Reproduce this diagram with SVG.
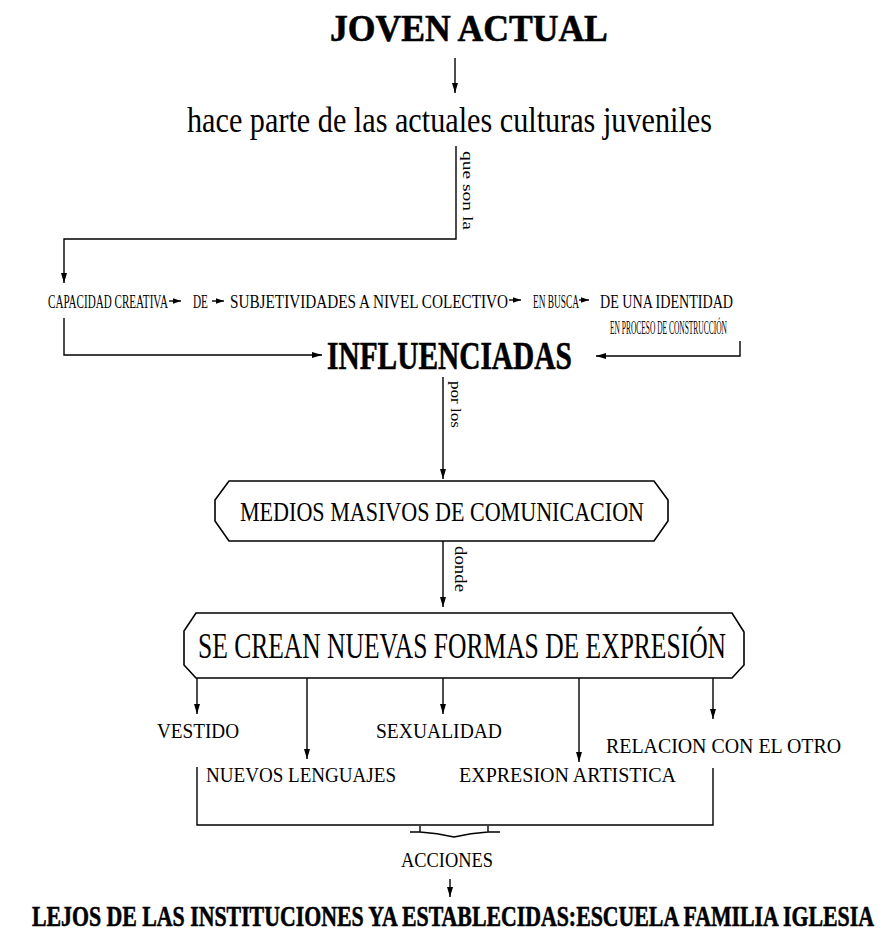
<svg xmlns="http://www.w3.org/2000/svg" width="896" height="934" viewBox="0 0 896 934">
<style>
.t{font-family:"Liberation Serif","Times New Roman",serif;fill:#000}
.b{font-weight:bold;stroke:#000;stroke-width:0.6}
.ln{stroke:#000;stroke-width:1.4;fill:none}
.box{stroke:#000;stroke-width:1.6;fill:#fff}
</style>
<defs>
<marker id="ah" viewBox="0 0 10 10" refX="10" refY="5" markerWidth="10" markerHeight="10" markerUnits="userSpaceOnUse" orient="auto"><path d="M0,2 L10,5 L0,8 z" fill="#000"/></marker>
<marker id="sm" viewBox="0 0 10 10" refX="10" refY="5" markerWidth="8" markerHeight="8" markerUnits="userSpaceOnUse" orient="auto"><path d="M0,1.5 L10,5 L0,8.5 z" fill="#000"/></marker>
</defs>
<rect width="896" height="934" fill="#fff"/>
<g id="connectors">
<path class="ln" d="M455,58 V93" marker-end="url(#ah)"/>
<path class="ln" d="M456,146 V239 H64 V283" marker-end="url(#ah)"/>
<path class="ln" d="M169,301 H181" marker-end="url(#sm)"/>
<path class="ln" d="M212,301 H224" marker-end="url(#sm)"/>
<path class="ln" d="M509,300 H521" marker-end="url(#sm)"/>
<path class="ln" d="M579,300 H589" marker-end="url(#sm)"/>
<path class="ln" d="M64,318 V355 H322" marker-end="url(#ah)"/>
<path class="ln" d="M740,341 V356 H596" marker-end="url(#ah)"/>
<path class="ln" d="M443,377 V479" marker-end="url(#ah)"/>
<path class="ln" d="M443,541 V607" marker-end="url(#ah)"/>
<path class="ln" d="M197,678 V714" marker-end="url(#ah)"/>
<path class="ln" d="M307,678 V759" marker-end="url(#ah)"/>
<path class="ln" d="M443,678 V714" marker-end="url(#ah)"/>
<path class="ln" d="M579,678 V762" marker-end="url(#ah)"/>
<path class="ln" d="M713,678 V719" marker-end="url(#ah)"/>
<path class="ln" d="M197,767 V825 H713 V768"/>
<path class="ln" d="M410,832 H420 V826 M420,832 Q437,833 454,837 Q471,833 488,832 M488,826 V832 H500"/>
<path class="ln" d="M450,879 V897" marker-end="url(#ah)"/>
<text class="t" transform="translate(463,151) rotate(90)" font-size="15" textLength="79" lengthAdjust="spacingAndGlyphs">que son la</text>
<text class="t" transform="translate(451,381) rotate(90)" font-size="15" textLength="47" lengthAdjust="spacingAndGlyphs">por los</text>
<text class="t" transform="translate(455,546) rotate(90)" font-size="16" textLength="46" lengthAdjust="spacingAndGlyphs">donde</text>
</g>
<g id="joven">
<text class="t b" transform="translate(330,41) scale(0.908,1)" font-size="38" textLength="306" lengthAdjust="spacingAndGlyphs">JOVEN ACTUAL</text>
</g>
<g id="culturas">
<text class="t" transform="translate(187,132) scale(0.839,1)" font-size="36" textLength="625.7" lengthAdjust="spacingAndGlyphs">hace parte de las actuales culturas juveniles</text>
</g>
<g id="capacidad">
<text class="t" transform="translate(48,308) scale(0.588,1)" font-size="18" textLength="204" lengthAdjust="spacingAndGlyphs">CAPACIDAD CREATIVA</text>
</g>
<g id="de">
<text class="t" transform="translate(193,308) scale(0.625,1)" font-size="18" textLength="24" lengthAdjust="spacingAndGlyphs">DE</text>
</g>
<g id="subjetividades">
<text class="t" transform="translate(230,308) scale(0.839,1)" font-size="18" textLength="331.4" lengthAdjust="spacingAndGlyphs">SUBJETIVIDADES A NIVEL COLECTIVO</text>
</g>
<g id="enbusca">
<text class="t" transform="translate(533,308) scale(0.519,1)" font-size="18" textLength="88.6" lengthAdjust="spacingAndGlyphs">EN BUSCA</text>
</g>
<g id="identidad">
<text class="t" transform="translate(600,308) scale(0.778,1)" font-size="18" textLength="171" lengthAdjust="spacingAndGlyphs">DE UNA IDENTIDAD</text>
<text class="t" transform="translate(610,334) scale(0.401,1)" font-size="18" textLength="291.5" lengthAdjust="spacingAndGlyphs">EN PROCESO DE CONSTRUCCIÓN</text>
</g>
<g id="influenciadas">
<text class="t b" transform="translate(327,369) scale(0.718,1)" font-size="40" textLength="341" lengthAdjust="spacingAndGlyphs">INFLUENCIADAS</text>
</g>
<g id="medios">
<polygon class="box" points="229,481 654,481 668,500 668,521 654,541 229,541 215,521 215,500"/>
<text class="t" transform="translate(240,521) scale(0.796,1)" font-size="27" textLength="507.6" lengthAdjust="spacingAndGlyphs">MEDIOS MASIVOS DE COMUNICACION</text>
</g>
<g id="formas">
<polygon class="box" points="196,613 732,613 744,632 744,665 732,678 196,678 184,665 184,631"/>
<text class="t" transform="translate(198,658) scale(0.705,1)" font-size="36" textLength="749" lengthAdjust="spacingAndGlyphs">SE CREAN NUEVAS FORMAS DE EXPRESIÓN</text>
</g>
<g id="vestido">
<text class="t" x="157" y="738" font-size="20" textLength="82" lengthAdjust="spacingAndGlyphs">VESTIDO</text>
</g>
<g id="lenguajes">
<text class="t" x="206" y="782" font-size="20" textLength="190" lengthAdjust="spacingAndGlyphs">NUEVOS LENGUAJES</text>
</g>
<g id="sexualidad">
<text class="t" x="376" y="738" font-size="20" textLength="126" lengthAdjust="spacingAndGlyphs">SEXUALIDAD</text>
</g>
<g id="expresion">
<text class="t" x="459" y="782" font-size="20" textLength="217" lengthAdjust="spacingAndGlyphs">EXPRESION ARTISTICA</text>
</g>
<g id="relacion">
<text class="t" x="606" y="753" font-size="20" textLength="235" lengthAdjust="spacingAndGlyphs">RELACION CON EL OTRO</text>
</g>
<g id="acciones">
<text class="t" x="401" y="867" font-size="22" textLength="92" lengthAdjust="spacingAndGlyphs">ACCIONES</text>
</g>
<g id="lejos">
<text class="t b" transform="translate(32,926) scale(0.719,1)" font-size="30" textLength="1171" lengthAdjust="spacingAndGlyphs">LEJOS DE LAS INSTITUCIONES YA ESTABLECIDAS:ESCUELA FAMILIA IGLESIA</text>
</g>
</svg>
